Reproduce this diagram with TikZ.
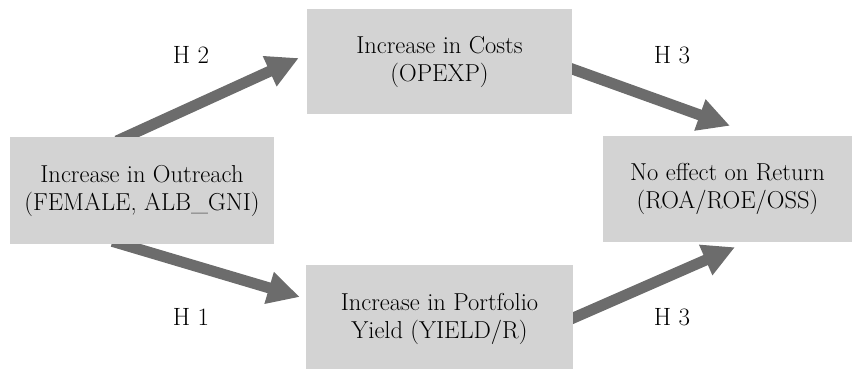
\documentclass[tikz,border=0pt]{standalone}
\usepackage{fontspec}
\usetikzlibrary{arrows.meta,backgrounds}
\definecolor{boxgray}{RGB}{211,211,211}
\definecolor{arrgray}{RGB}{108,108,108}
\begin{document}
\begin{tikzpicture}[x=1pt,y=-1pt,
  box/.style={fill=boxgray, draw=none, inner sep=0pt, align=center,
    font=\fontsize{24.5}{28}\selectfont},
  hyp/.style={inner sep=0pt, font=\fontsize{25}{28}\selectfont},
  bigarrow/.style={draw=arrgray, line width=11pt,
    -{Triangle[length=32pt,width=31pt]}, shorten <=-10pt}]
\clip (0,0) rectangle (854,368);
\node[box, minimum width=264pt, minimum height=107pt] (left) at (142,190.5)
  {Increase in Outreach\\(FEMALE, ALB\_GNI)};
\node[box, minimum width=265pt, minimum height=105pt] (top) at (439.5,61.5)
  {Increase in Costs\\(OPEXP)};
\node[box, minimum width=249pt, minimum height=106pt] (right) at (727.5,189)
  {No effect on Return\\(ROA/ROE/OSS)};
\node[box, minimum width=267pt, minimum height=108pt] (bottom) at (439.5,319)
  {Increase in Portfolio\\Yield (YIELD/R)};
\node[hyp] (h2) at (191,55) {H 2};
\node[hyp] (h3a) at (672,55) {H 3};
\node[hyp] (h1) at (191,317) {H 1};
\node[hyp] (h3b) at (672,317) {H 3};
\begin{scope}[on background layer]
\draw[bigarrow] ([xshift=-16pt]left.north) -- ([xshift=-8pt,yshift=3.5pt]top.west);
\draw[bigarrow] ([yshift=-7.5pt]top.east) -- ([xshift=2.5pt,yshift=10pt]right.north);
\draw[bigarrow] ([xshift=-20pt]left.south) -- ([xshift=-6pt,yshift=22pt]bottom.west);
\draw[bigarrow] ([yshift=1pt]bottom.east) -- ([xshift=7.5pt,yshift=-5pt]right.south);
\end{scope}
\end{tikzpicture}
\end{document}
